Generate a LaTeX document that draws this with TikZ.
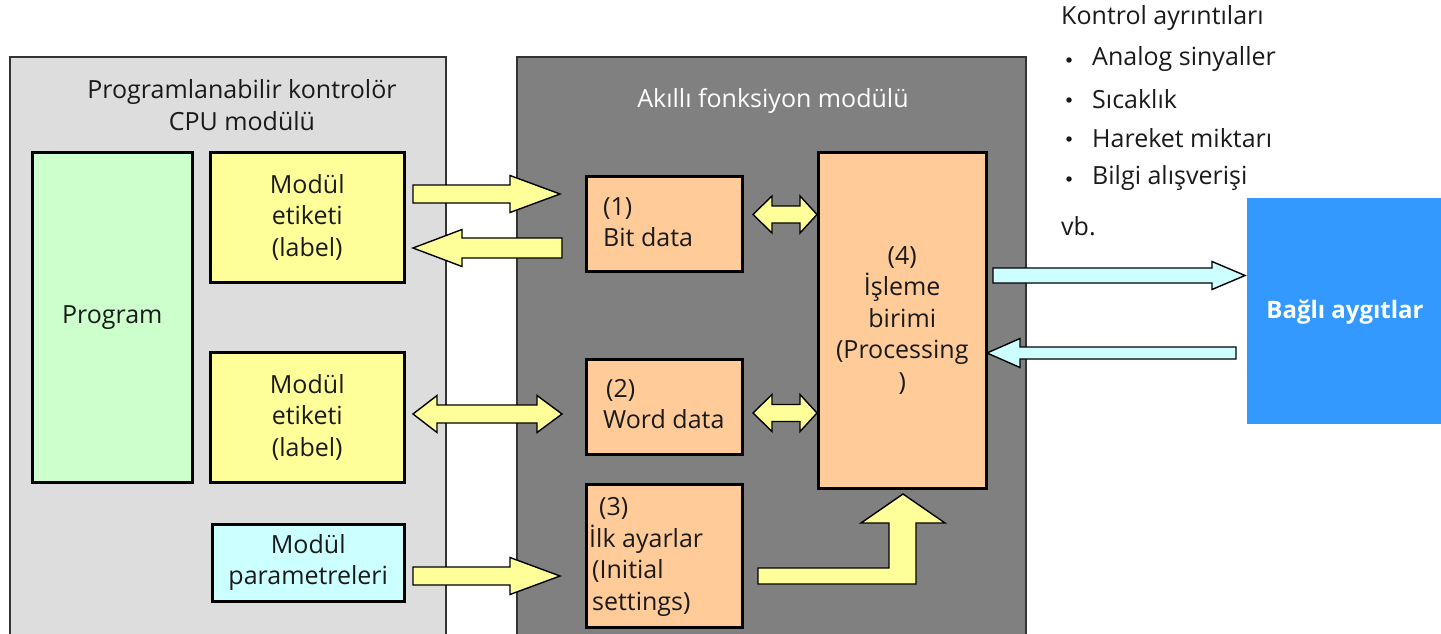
\documentclass[tikz,border=0pt]{standalone}
\usepackage{fontspec}
\setmainfont{Open Sans}
\definecolor{lgray}{HTML}{DDDDDD}
\definecolor{dgray}{HTML}{808080}
\definecolor{yel}{HTML}{FFFF99}
\definecolor{grn}{HTML}{CCFFCC}
\definecolor{cyn}{HTML}{CCFFFF}
\definecolor{org}{HTML}{FFCC99}
\definecolor{blu}{HTML}{3399FF}
\definecolor{edge}{HTML}{333333}
\definecolor{ink}{HTML}{1A1A1A}
\newcommand{\fs}{\fontsize{25}{31.5}\selectfont}
% right arrow: start, headbase, tip, yc, h, H, style
\newcommand{\fatR}[7]{\draw[#7] (#1,#4-#5) -- (#2,#4-#5) -- (#2,#4-#6) -- (#3,#4) -- (#2,#4+#6) -- (#2,#4+#5) -- (#1,#4+#5) -- cycle;}
% left arrow: tip, headbase, end, yc, h, H, style
\newcommand{\fatL}[7]{\draw[#7] (#1,#4) -- (#2,#4-#6) -- (#2,#4-#5) -- (#3,#4-#5) -- (#3,#4+#5) -- (#2,#4+#5) -- (#2,#4+#6) -- cycle;}
% double arrow: tipL, baseL, baseR, tipR, yc, h, H
\newcommand{\fatLR}[7]{\draw[fatY] (#1,#5) -- (#2,#5-#7) -- (#2,#5-#6) -- (#3,#5-#6) -- (#3,#5-#7) -- (#4,#5) -- (#3,#5+#7) -- (#3,#5+#6) -- (#2,#5+#6) -- (#2,#5+#7) -- cycle;}
\begin{document}
\begin{tikzpicture}[x=1pt,y=-1pt,
  box/.style={draw=black, line width=2.5pt, inner sep=0pt, align=center, font=\fs, text=ink, anchor=north west},
  outer/.style={draw=edge, line width=1.3pt},
  fatY/.style={fill=yel, draw=black, line width=1.4pt, line join=miter},
  fatC/.style={fill=cyn, draw=black, line width=1.4pt, line join=miter},
  txt/.style={font=\fs, text=ink, inner sep=0pt, align=center},
  ltxt/.style={font=\fs, text=ink, inner sep=0pt, align=left, anchor=west},
  bul/.style={circle, fill=ink, inner sep=0pt, minimum size=5.5pt}]
\useasboundingbox (0,0) rectangle (1441,634);
\clip (0,0) rectangle (1441,634);
% outer modules
\draw[outer, fill=lgray] (10,57) rectangle (446,660);
\draw[outer, fill=dgray] (517,57) rectangle (1026,660);
\node[txt] (cputitle) at (242,105) {Programlanabilir kontrolör\\CPU modülü};
\node[txt, text=white] (smtitle) at (773,101) {Akıllı fonksiyon modülü};
% CPU boxes
\node[box, fill=grn, minimum width=160, minimum height=330] (prog) at (31,151) {\raisebox{-3pt}{Program}};
\node[box, fill=yel, minimum width=194, minimum height=130] (lab1) at (209,151) {Modül\\etiketi\\(label)};
\node[box, fill=yel, minimum width=194, minimum height=130] (lab2) at (209,351) {Modül\\etiketi\\(label)};
\node[box, fill=cyn, minimum width=192, minimum height=77] (par) at (211,523) {Modül\\parametreleri};
% module boxes
\node[box, fill=org, minimum width=156, minimum height=95] (bit) at (585,175) {};
\node[ltxt] (bittxt) at (603,222) {(1)\\Bit data};
\node[box, fill=org, minimum width=156, minimum height=95] (word) at (585,358) {};
\node[ltxt] (wordtxt) at (603,404) {\hspace*{3pt}(2)\\Word data};
\node[box, fill=org, minimum width=156, minimum height=143] (init) at (585,483) {};
\node[ltxt] (inittxt) at (589,557) {\hspace*{10pt}(3)\\İlk ayarlar\\\hspace*{3pt}(Initial\\\hspace*{3pt}settings)};
\node[box, fill=org, minimum width=168, minimum height=336] (proc) at (817,151) {(4)\\İşleme\\birimi\\(Processing\\)};
% devices
\fill[blu] (1247,198) rectangle (1460,424);
\node[txt, text=white, font=\fontsize{24}{30}\selectfont\bfseries] (dev) at (1345,312) {Bağlı aygıtlar};
% list
\node[ltxt] (kt) at (1061,18) {Kontrol ayrıntıları};
\foreach \t/\yy [count=\i] in {Analog sinyaller/59, Sıcaklık/99, Hareket miktarı/138, Bilgi alışverişi/178}{
  \node[bul] (b\i) at (1069,\yy+1) {};
  \node[ltxt] (l\i) at (1092,\yy) {\t};
}
\node[ltxt] (vb) at (1061,226) {vb.};
% arrows
\fatR{413}{510}{560}{194}{9}{18.5}{fatY}
\fatL{413}{462}{562}{248}{10}{18.5}{fatY}
\fatLR{753}{772}{800}{817}{214.5}{8.5}{18.5}
\fatLR{753}{772}{800}{817}{413}{8.5}{18.5}
\fatLR{413}{437}{537}{562}{414}{9}{18.5}
\fatR{413}{510}{560}{576}{9}{18.5}{fatY}
\fatR{993}{1212}{1245}{275.5}{7.5}{14}{fatC}
\fatL{987}{1020}{1236}{353}{6}{14.5}{fatC}
\draw[fatY] (758,568) -- (889,568) -- (889,523) -- (861,523) -- (903,494) -- (945,523) -- (916,523) -- (916,584) -- (758,584) -- cycle;
\end{tikzpicture}
\end{document}
